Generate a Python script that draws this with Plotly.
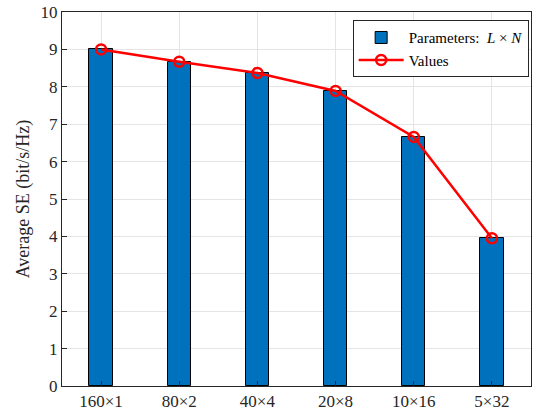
import plotly.graph_objects as go

categories = ["160×1", "80×2", "40×4", "20×8", "10×16", "5×32"]
bar_values = [9.0, 8.67, 8.37, 7.89, 6.66, 3.95]
line_values = [9.0, 8.67, 8.37, 7.89, 6.66, 3.95]
y_ticks = list(range(0, 11))

font_family = "Liberation Serif"
txt = "#262626"

fig = go.Figure()
fig.add_trace(go.Bar(
    x=categories, y=bar_values, width=0.3,
    marker=dict(color="#0072BD", line=dict(color="black", width=1)),
    name="Parameters:  <i>L</i> × <i>N</i>",
))
fig.add_trace(go.Scatter(
    x=categories, y=line_values, mode="lines+markers",
    line=dict(color="#FF0000", width=2.5),
    marker=dict(symbol="circle-open", size=10, color="#FF0000", line=dict(width=2.5, color="#FF0000")),
    name="Values",
))

fig.update_layout(
    width=534, height=413,
    margin=dict(l=62, r=2, t=12, b=25),
    plot_bgcolor="white", paper_bgcolor="white",
    font=dict(family=font_family, size=17, color=txt),
    showlegend=True,
    legend=dict(
        x=0.995, y=0.978, xanchor="right", yanchor="top",
        bgcolor="white", bordercolor=txt, borderwidth=1,
        font=dict(family=font_family, size=15, color="black"),
        tracegroupgap=0, itemwidth=45,
    ),
    bargap=0,
)
fig.update_xaxes(
    type="category", range=[-0.5, 5.5],
    showgrid=True, gridcolor="#E5E5E5", gridwidth=1,
    showline=True, linecolor=txt, linewidth=1, mirror=True,
    ticks="inside", ticklen=5, tickcolor=txt,
    tickfont=dict(family=font_family, size=17, color=txt),
)
fig.update_yaxes(
    range=[0, 10], tickvals=y_ticks,
    showgrid=True, gridcolor="#E5E5E5", gridwidth=1,
    showline=True, linecolor=txt, linewidth=1, mirror=True,
    ticks="inside", ticklen=5, tickcolor=txt,
    tickfont=dict(family=font_family, size=17, color=txt),
    title=dict(text="Average SE (bit/s/Hz)", font=dict(family=font_family, size=18, color=txt), standoff=6),
    zeroline=False,
)

fig.write_html("out.html", config={"displayModeBar": False},
               post_script="document.body.style.margin='0';")
